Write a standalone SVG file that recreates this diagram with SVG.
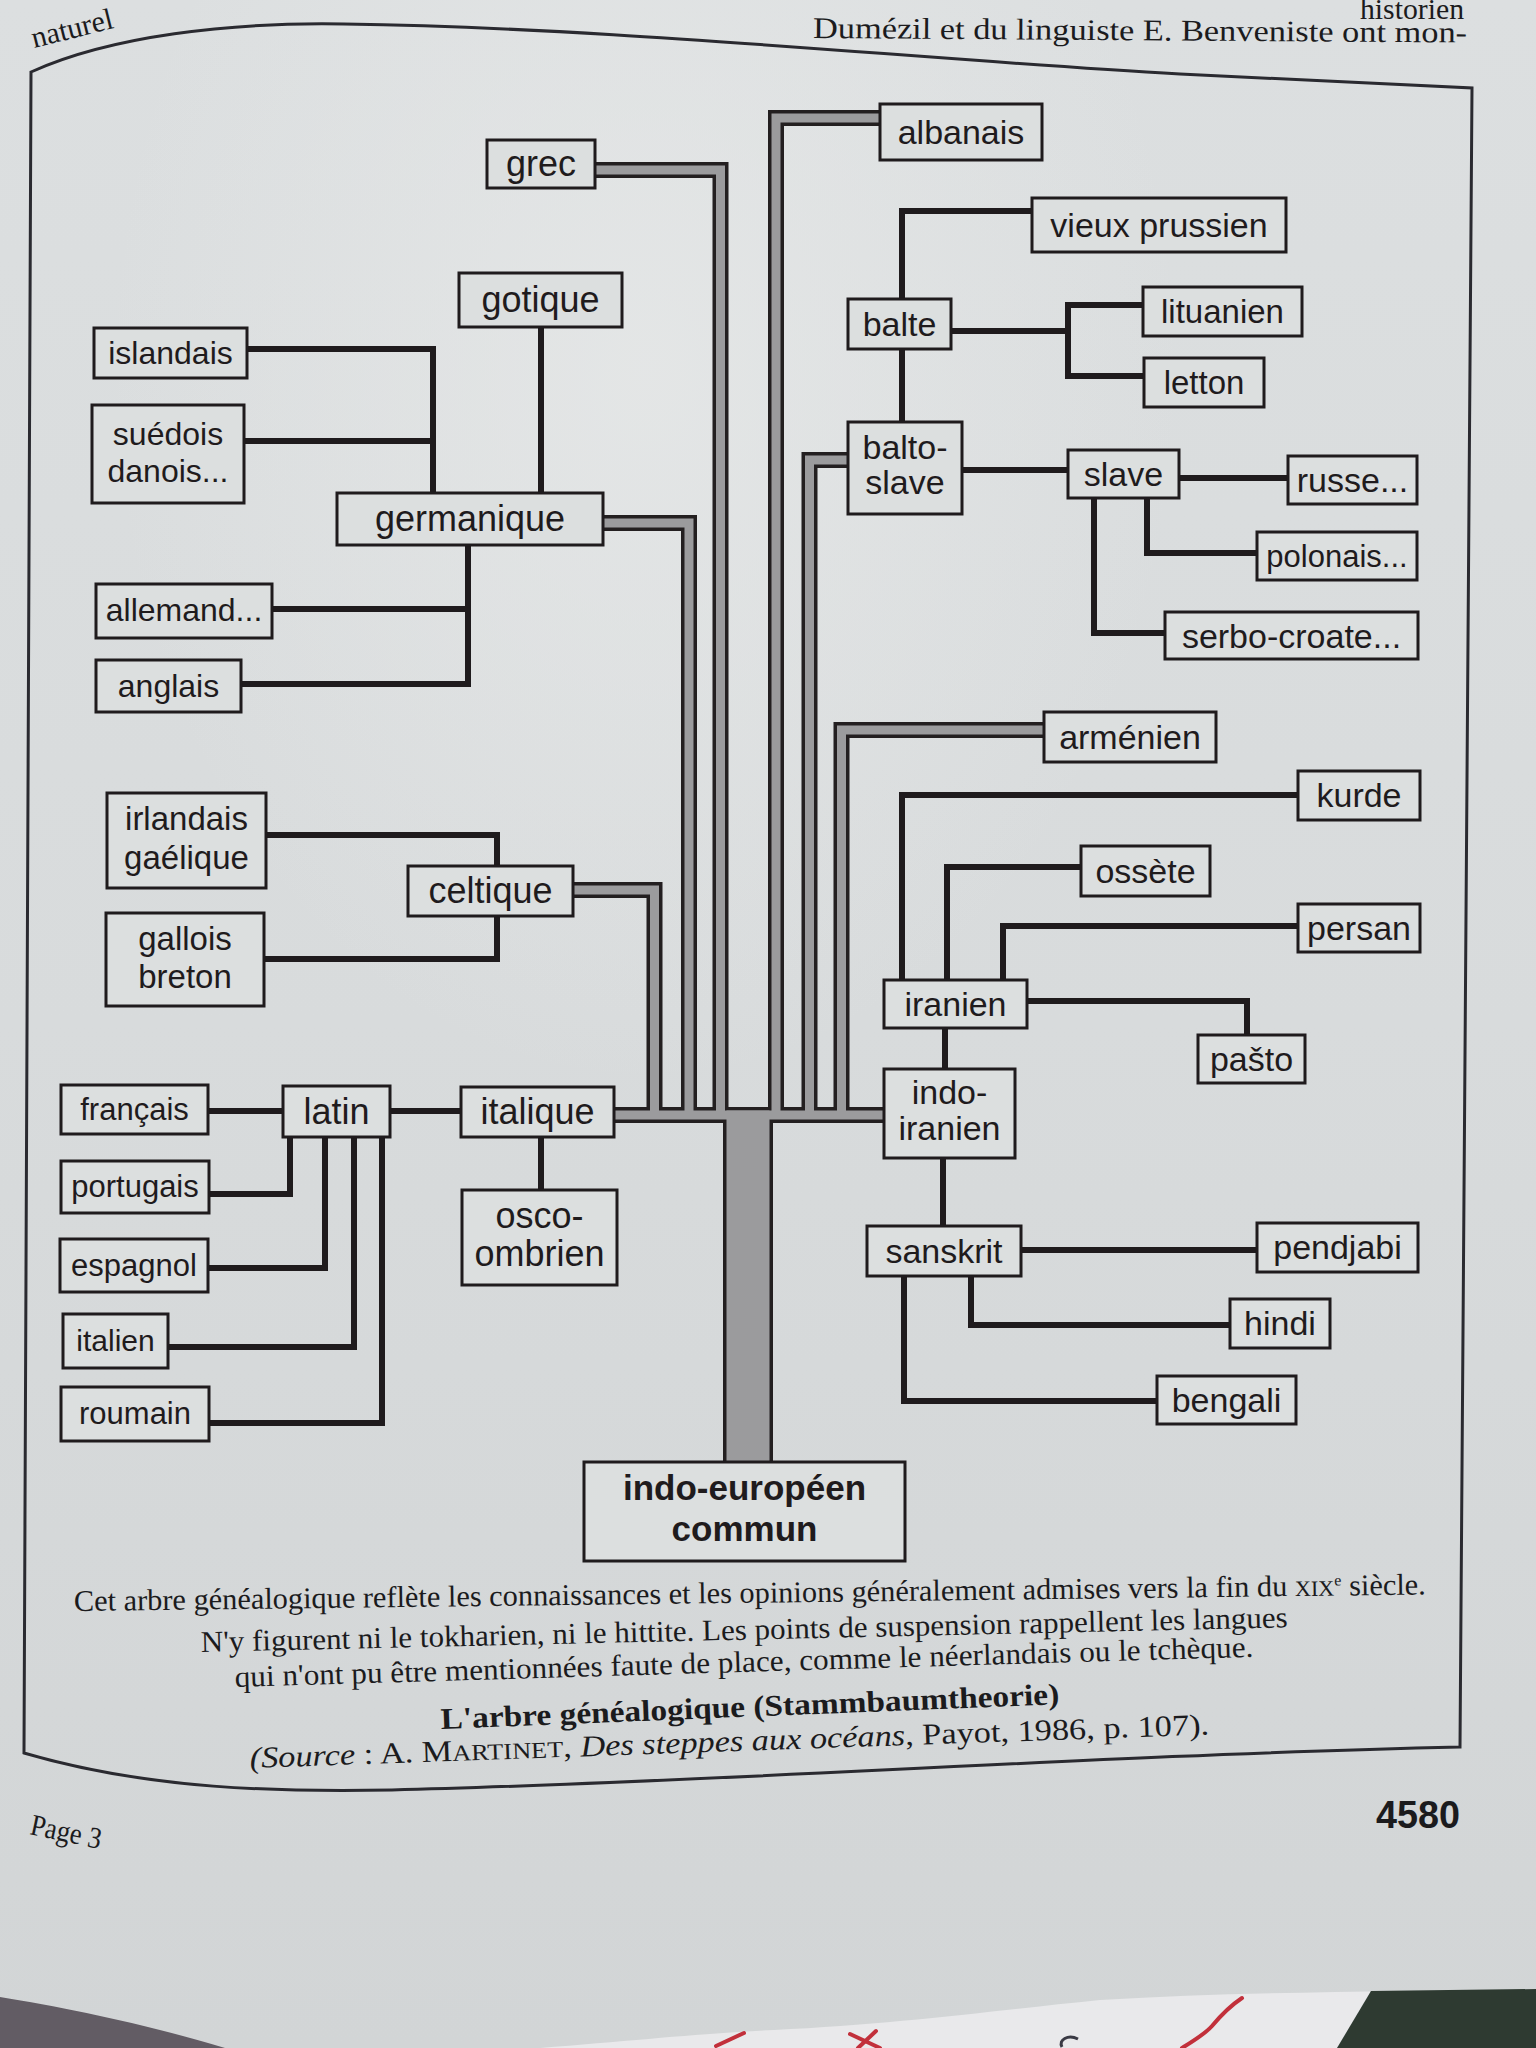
<svg xmlns="http://www.w3.org/2000/svg" width="1536" height="2048" viewBox="0 0 1536 2048">
<defs>
<linearGradient id="paper" x1="0" y1="0" x2="0" y2="1">
<stop offset="0" stop-color="#dcdfe0"/>
<stop offset="0.5" stop-color="#d8dbdc"/>
<stop offset="1" stop-color="#d2d5d6"/>
</linearGradient>
<radialGradient id="glare" cx="0.42" cy="0.18" r="0.35">
<stop offset="0" stop-color="#e6e8e8" stop-opacity="0.8"/>
<stop offset="1" stop-color="#e6e8e8" stop-opacity="0"/>
</radialGradient>
<style>
.box rect { fill:#dcdfdf; stroke:#1f1b1d; stroke-width:3; }
.box text { font-family:"Liberation Sans", Arial, sans-serif; font-size:34px; fill:#1f1b1d; text-anchor:middle; }
.box.f36 text { font-size:36px; }
.box.f33 text { font-size:33px; }
.box.f32 text { font-size:32px; }
.box.f31 text { font-size:31px; }
.box.f30 text { font-size:30px; }
.box.root text { font-weight:bold; font-size:35px; }
.ln { fill:none; stroke:#1f1b1d; stroke-width:6; stroke-linejoin:miter; stroke-linecap:butt; }
.pd { fill:none; stroke:#231f20; stroke-width:16; stroke-linejoin:miter; }
.pg { fill:none; stroke:#9b9b9d; stroke-width:9; stroke-linejoin:miter; }
.cap { font-family:"Liberation Serif", "Times New Roman", serif; font-size:30px; fill:#1b1b1d; }
.frame { fill:none; stroke:#2a2a30; stroke-width:3; }
</style>
</defs>

<!-- page -->
<rect x="0" y="0" width="1536" height="2048" fill="url(#paper)"/>
<rect x="0" y="0" width="1536" height="2048" fill="url(#glare)"/>

<!-- surroundings below the page -->
<path d="M0 1997 C70 2008 160 2028 225 2048 L0 2048 Z" fill="#625c64"/>
<path d="M540 2048 C640 2040 720 2032 774 2030 C900 2024 1000 2010 1100 2000 C1250 1991 1400 1992 1536 1989 L1536 2048 Z" fill="#e9e9eb"/>
<path d="M1371 1991 L1536 1989 L1536 2048 L1337 2048 Z" fill="#2e3a31"/>
<g fill="none" stroke="#c2303b" stroke-width="4" stroke-linecap="round">
<path d="M716 2046 L744 2033"/>
<path d="M850 2034 L880 2048 M876 2031 L858 2048"/>
<path d="M1242 1998 C1230 2006 1222 2014 1212 2026 C1205 2034 1195 2040 1182 2048"/>
</g>
<path d="M1078 2039 C1068 2034 1058 2040 1062 2047" fill="none" stroke="#3a3a44" stroke-width="3"/>

<!-- running text -->
<text class="cap" x="34" y="48" transform="rotate(-14 34 48)" font-size="26">naturel</text>
<text class="cap" x="1360" y="19" font-size="15" textLength="104" lengthAdjust="spacingAndGlyphs">historien</text>
<text class="cap" x="813" y="38" transform="rotate(0.4 813 38)" font-size="29" textLength="654" lengthAdjust="spacingAndGlyphs">Dumézil et du linguiste E. Benveniste ont mon-</text>

<!-- frame -->
<path class="frame" d="M31 72 C110 36 230 22 344 24 C620 28 900 58 1180 74 L1472 88 L1460 1747 C1100 1755 700 1783 392 1790 C280 1792 150 1790 24 1753 Z"/>

<g id="connectors">
<!-- pipes (dark outlines) -->
<path class="pd" d="M595 170 H720.5 V1115"/>
<path class="pd" d="M603 523 H689 V1115"/>
<path class="pd" d="M573 890 H654.5 V1115"/>
<path class="pd" d="M880 118 H776 V1115"/>
<path class="pd" d="M848 460 H809.5 V1115"/>
<path class="pd" d="M1044 730 H841.5 V1115"/>
<path class="pd" d="M614 1115 H885"/>
<rect x="723" y="1112" width="50" height="351" fill="#231f20"/>
<!-- pipes (gray interior) -->
<path class="pg" d="M595 170 H720.5 V1115"/>
<path class="pg" d="M603 523 H689 V1115"/>
<path class="pg" d="M573 890 H654.5 V1115"/>
<path class="pg" d="M880 118 H776 V1115"/>
<path class="pg" d="M848 460 H809.5 V1115"/>
<path class="pg" d="M1044 730 H841.5 V1115"/>
<path class="pg" d="M614 1115 H885"/>
<rect x="726.5" y="1110.5" width="43" height="352.5" fill="#9b9b9d"/>

<!-- germanique -->
<path class="ln" d="M247 349 H433 V493"/>
<path class="ln" d="M244 441 H433"/>
<path class="ln" d="M541 327 V493"/>
<path class="ln" d="M468 545 V684 H241"/>
<path class="ln" d="M272 609 H468"/>
<!-- celtique -->
<path class="ln" d="M266 835 H497 V866"/>
<path class="ln" d="M264 959 H497 V916"/>
<!-- italique -->
<path class="ln" d="M208 1111 H283"/>
<path class="ln" d="M390 1111 H461"/>
<path class="ln" d="M290 1137 V1194 H209"/>
<path class="ln" d="M325 1137 V1268 H208"/>
<path class="ln" d="M354 1137 V1347 H168"/>
<path class="ln" d="M382 1137 V1423 H209"/>
<path class="ln" d="M541 1137 V1190"/>
<!-- balto-slave -->
<path class="ln" d="M902 299 V211 H1032"/>
<path class="ln" d="M902 349 V422"/>
<path class="ln" d="M951 331 H1068"/>
<path class="ln" d="M1143 305 H1068 V376 H1144"/>
<path class="ln" d="M962 470 H1068"/>
<path class="ln" d="M1179 478 H1288"/>
<path class="ln" d="M1147 498 V553 H1257"/>
<path class="ln" d="M1094 498 V633 H1165"/>
<!-- indo-iranien -->
<path class="ln" d="M902 980 V795 H1298"/>
<path class="ln" d="M947 980 V867 H1081"/>
<path class="ln" d="M1003 980 V926 H1298"/>
<path class="ln" d="M1027 1001 H1247 V1035"/>
<path class="ln" d="M945 1028 V1069"/>
<path class="ln" d="M943 1158 V1226"/>
<path class="ln" d="M1021 1250 H1257"/>
<path class="ln" d="M971 1276 V1325 H1230"/>
<path class="ln" d="M904 1276 V1401 H1157"/>
</g>

<g id="n-grec" class="box f36"><rect x="487" y="140" width="108" height="48"/><text x="541" y="176">grec</text></g>
<g id="n-gotique" class="box f36"><rect x="459" y="273" width="163" height="54"/><text x="540.5" y="312">gotique</text></g>
<g id="n-islandais" class="box f32"><rect x="94" y="328" width="153" height="50"/><text x="170.5" y="364">islandais</text></g>
<g id="n-suedois" class="box f32"><rect x="92" y="405" width="152" height="98"/><text x="168" y="445">suédois</text><text x="168" y="482">danois...</text></g>
<g id="n-germanique" class="box f36"><rect x="337" y="493" width="266" height="52"/><text x="470" y="531">germanique</text></g>
<g id="n-allemand" class="box f32"><rect x="96" y="584" width="176" height="54"/><text x="184" y="621">allemand...</text></g>
<g id="n-anglais" class="box f32"><rect x="96" y="660" width="145" height="52"/><text x="168.5" y="697">anglais</text></g>

<g id="n-albanais" class="box"><rect x="880" y="104" width="162" height="56"/><text x="961" y="144">albanais</text></g>
<g id="n-vieux-prussien" class="box"><rect x="1032" y="198" width="254" height="54"/><text x="1159" y="237">vieux prussien</text></g>
<g id="n-balte" class="box"><rect x="848" y="299" width="103" height="50"/><text x="899.5" y="336">balte</text></g>
<g id="n-lituanien" class="box f33"><rect x="1143" y="287" width="159" height="49"/><text x="1222.5" y="323">lituanien</text></g>
<g id="n-letton" class="box f33"><rect x="1144" y="358" width="120" height="49"/><text x="1204" y="394">letton</text></g>
<g id="n-balto-slave" class="box"><rect x="848" y="422" width="114" height="92"/><text x="905" y="459">balto-</text><text x="905" y="494">slave</text></g>
<g id="n-slave" class="box"><rect x="1068" y="450" width="111" height="48"/><text x="1123.5" y="486">slave</text></g>
<g id="n-russe" class="box"><rect x="1288" y="456" width="129" height="48"/><text x="1352.5" y="492">russe...</text></g>
<g id="n-polonais" class="box f31"><rect x="1257" y="532" width="160" height="48"/><text x="1337" y="567">polonais...</text></g>
<g id="n-serbo-croate" class="box"><rect x="1165" y="612" width="253" height="47"/><text x="1291.5" y="648">serbo-croate...</text></g>

<g id="n-irlandais" class="box f33"><rect x="107" y="793" width="159" height="95"/><text x="186.5" y="830">irlandais</text><text x="186.5" y="869">gaélique</text></g>
<g id="n-gallois" class="box f33"><rect x="106" y="913" width="158" height="93"/><text x="185" y="950">gallois</text><text x="185" y="988">breton</text></g>
<g id="n-celtique" class="box f36"><rect x="408" y="866" width="165" height="50"/><text x="490.5" y="903">celtique</text></g>

<g id="n-francais" class="box f31"><rect x="61" y="1085" width="147" height="49"/><text x="134.5" y="1120">français</text></g>
<g id="n-latin" class="box f36"><rect x="283" y="1086" width="107" height="51"/><text x="336.5" y="1124">latin</text></g>
<g id="n-italique" class="box f36"><rect x="461" y="1087" width="153" height="50"/><text x="537.5" y="1124">italique</text></g>
<g id="n-portugais" class="box f31"><rect x="61" y="1161" width="148" height="52"/><text x="135" y="1197">portugais</text></g>
<g id="n-espagnol" class="box f31"><rect x="60" y="1239" width="148" height="53"/><text x="134" y="1276">espagnol</text></g>
<g id="n-italien" class="box f30"><rect x="63" y="1314" width="105" height="54"/><text x="115.5" y="1351">italien</text></g>
<g id="n-roumain" class="box f31"><rect x="61" y="1387" width="148" height="54"/><text x="135" y="1424">roumain</text></g>
<g id="n-osco-ombrien" class="box f36"><rect x="462" y="1190" width="155" height="95"/><text x="539.5" y="1228">osco-</text><text x="539.5" y="1266">ombrien</text></g>

<g id="n-armenien" class="box"><rect x="1044" y="712" width="172" height="50"/><text x="1130" y="749">arménien</text></g>
<g id="n-kurde" class="box"><rect x="1298" y="771" width="122" height="49"/><text x="1359" y="807">kurde</text></g>
<g id="n-ossete" class="box"><rect x="1081" y="846" width="129" height="50"/><text x="1145.5" y="883">ossète</text></g>
<g id="n-persan" class="box"><rect x="1298" y="904" width="122" height="48"/><text x="1359" y="940">persan</text></g>
<g id="n-iranien" class="box"><rect x="884" y="980" width="143" height="48"/><text x="955.5" y="1016">iranien</text></g>
<g id="n-pasto" class="box"><rect x="1198" y="1035" width="107" height="48"/><text x="1251.5" y="1071">pašto</text></g>
<g id="n-indo-iranien" class="box"><rect x="884" y="1069" width="131" height="89"/><text x="949.5" y="1104">indo-</text><text x="949.5" y="1140">iranien</text></g>
<g id="n-sanskrit" class="box"><rect x="867" y="1226" width="154" height="50"/><text x="944" y="1263">sanskrit</text></g>
<g id="n-pendjabi" class="box"><rect x="1257" y="1223" width="161" height="49"/><text x="1337.5" y="1259">pendjabi</text></g>
<g id="n-hindi" class="box"><rect x="1230" y="1299" width="100" height="49"/><text x="1280" y="1335">hindi</text></g>
<g id="n-bengali" class="box"><rect x="1157" y="1376" width="139" height="48"/><text x="1226.5" y="1412">bengali</text></g>

<g id="n-indo-europeen" class="box root"><rect x="584" y="1462" width="321" height="99"/><text x="744.5" y="1500">indo-européen</text><text x="744.5" y="1541">commun</text></g>

<!-- caption -->
<g id="caption">
<text class="cap" x="74" y="1611" transform="rotate(-0.7 74 1611)" textLength="1352" lengthAdjust="spacingAndGlyphs">Cet arbre généalogique reflète les connaissances et les opinions généralement admises vers la fin du <tspan font-size="22">XIX</tspan><tspan font-size="16" dy="-10">e</tspan><tspan dy="10"> siècle.</tspan></text>
<text class="cap" x="201" y="1652" transform="rotate(-1.3 201 1652)" textLength="1087" lengthAdjust="spacingAndGlyphs">N'y figurent ni le tokharien, ni le hittite. Les points de suspension rappellent les langues</text>
<text class="cap" x="235" y="1687" transform="rotate(-1.7 235 1687)" textLength="1019" lengthAdjust="spacingAndGlyphs">qui n'ont pu être mentionnées faute de place, comme le néerlandais ou le tchèque.</text>
<text class="cap" x="441" y="1729" transform="rotate(-2.3 441 1729)" textLength="619" lengthAdjust="spacingAndGlyphs" font-weight="bold" font-size="32">L'arbre généalogique (Stammbaumtheorie)</text>
<text class="cap" x="250" y="1768" transform="rotate(-2 250 1768)" textLength="960" lengthAdjust="spacingAndGlyphs"><tspan font-style="italic">(Source</tspan> : A. M<tspan font-size="23">ARTINET</tspan>, <tspan font-style="italic">Des steppes aux océans</tspan>, Payot, 1986, p. 107).</text>
</g>

<text class="cap" x="29" y="1834" transform="rotate(12 29 1834)" font-size="32" textLength="72" lengthAdjust="spacingAndGlyphs">Page 3</text>
<text x="1376" y="1828" font-family="'Liberation Sans', Arial, sans-serif" font-weight="bold" font-size="38" fill="#1b1b1d" textLength="84" lengthAdjust="spacingAndGlyphs">4580</text>
</svg>
